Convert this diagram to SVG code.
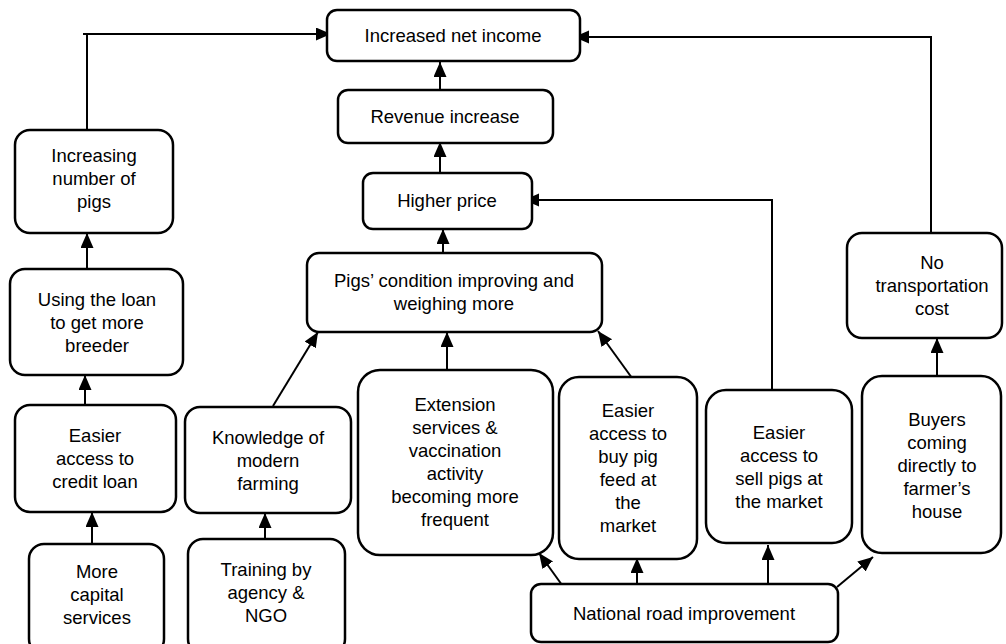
<svg xmlns="http://www.w3.org/2000/svg" width="1006" height="644" viewBox="0 0 1006 644">
  <style>
    .box { fill: #ffffff; stroke: #000000; stroke-width: 2.5; }
    .lbl { font-family: "Liberation Sans", Arial, sans-serif; font-size: 18.5px; fill: #000000; text-anchor: middle; }
    .con { fill: none; stroke: #000000; stroke-width: 2; }
    .arr { marker-end: url(#head); }
  </style>
  <defs>
    <marker id="head" markerUnits="userSpaceOnUse" markerWidth="16" markerHeight="14" refX="15" refY="6.5" orient="auto">
      <path d="M0,0 L15,6.5 L0,13 Z" fill="#000000"/>
    </marker>
  </defs>

  <rect width="1006" height="644" fill="#ffffff"/>

  <!-- connectors -->
  <g id="connectors">
    <polyline class="con arr" points="87,130 87,34 83,34 87,34 331,34"/>
    <line class="con arr" x1="440" y1="90" x2="440" y2="62"/>
    <polyline class="con arr" points="931,233 931,37 574,37"/>
    <line class="con arr" x1="440" y1="173" x2="440" y2="142"/>
    <polyline class="con arr" points="772,390 772,200 524,200"/>
    <line class="con arr" x1="443" y1="253" x2="443" y2="229"/>
    <line class="con arr" x1="447" y1="370" x2="447" y2="332"/>
    <line class="con arr" x1="273" y1="406" x2="318" y2="332"/>
    <line class="con arr" x1="632" y1="378" x2="598" y2="331"/>
    <line class="con arr" x1="87" y1="269" x2="87" y2="233"/>
    <line class="con arr" x1="85" y1="405" x2="85" y2="375"/>
    <line class="con arr" x1="92" y1="544" x2="92" y2="512"/>
    <line class="con arr" x1="265" y1="539" x2="265" y2="513"/>
    <line class="con arr" x1="937" y1="376" x2="937" y2="338"/>
    <line class="con arr" x1="562" y1="585" x2="539" y2="553"/>
    <line class="con arr" x1="637" y1="585" x2="637" y2="558"/>
    <line class="con arr" x1="768" y1="585" x2="768" y2="545"/>
    <line class="con arr" x1="837" y1="587" x2="873" y2="557"/>
  </g>

  <g id="increased-net-income">
    <rect class="box" x="327" y="10" width="253" height="51" rx="10"/>
    <text class="lbl" x="453" y="42">Increased net income</text>
  </g>

  <g id="revenue-increase">
    <rect class="box" x="338" y="90" width="215" height="53" rx="10"/>
    <text class="lbl" x="445" y="123">Revenue increase</text>
  </g>

  <g id="higher-price">
    <rect class="box" x="363" y="173" width="169" height="56" rx="10"/>
    <text class="lbl" x="447" y="207">Higher price</text>
  </g>

  <g id="pigs-condition">
    <rect class="box" x="307" y="253" width="295" height="79" rx="12"/>
    <text class="lbl" x="454" y="287">Pigs’ condition improving and</text>
    <text class="lbl" x="454" y="310">weighing more</text>
  </g>

  <g id="increasing-pigs">
    <rect class="box" x="15" y="130" width="158" height="103" rx="15"/>
    <text class="lbl" x="94" y="162">Increasing</text>
    <text class="lbl" x="94" y="185">number of</text>
    <text class="lbl" x="94" y="208">pigs</text>
  </g>

  <g id="using-loan">
    <rect class="box" x="10" y="269" width="173" height="106" rx="15"/>
    <text class="lbl" x="97" y="306">Using the loan</text>
    <text class="lbl" x="97" y="329">to get more</text>
    <text class="lbl" x="97" y="352">breeder</text>
  </g>

  <g id="easier-credit">
    <rect class="box" x="15" y="405" width="161" height="107" rx="15"/>
    <text class="lbl" x="95" y="442">Easier</text>
    <text class="lbl" x="95" y="465">access to</text>
    <text class="lbl" x="95" y="488">credit loan</text>
  </g>

  <g id="more-capital">
    <rect class="box" x="29" y="544" width="135" height="110" rx="15"/>
    <text class="lbl" x="97" y="578">More</text>
    <text class="lbl" x="97" y="601">capital</text>
    <text class="lbl" x="97" y="624">services</text>
  </g>

  <g id="knowledge">
    <rect class="box" x="185" y="407" width="166" height="106" rx="15"/>
    <text class="lbl" x="268" y="444">Knowledge of</text>
    <text class="lbl" x="268" y="467">modern</text>
    <text class="lbl" x="268" y="490">farming</text>
  </g>

  <g id="training">
    <rect class="box" x="188" y="539" width="157" height="115" rx="15"/>
    <text class="lbl" x="266" y="576">Training by</text>
    <text class="lbl" x="266" y="599">agency &amp;</text>
    <text class="lbl" x="266" y="622">NGO</text>
  </g>

  <g id="extension-services">
    <rect class="box" x="358" y="370" width="195" height="185" rx="22"/>
    <text class="lbl" x="455" y="411">Extension</text>
    <text class="lbl" x="455" y="434">services &amp;</text>
    <text class="lbl" x="455" y="457">vaccination</text>
    <text class="lbl" x="455" y="480">activity</text>
    <text class="lbl" x="455" y="503">becoming more</text>
    <text class="lbl" x="455" y="526">frequent</text>
  </g>

  <g id="buy-feed">
    <rect class="box" x="559" y="377" width="138" height="182" rx="20"/>
    <text class="lbl" x="628" y="417">Easier</text>
    <text class="lbl" x="628" y="440">access to</text>
    <text class="lbl" x="628" y="463">buy pig</text>
    <text class="lbl" x="628" y="486">feed at</text>
    <text class="lbl" x="628" y="509">the</text>
    <text class="lbl" x="628" y="532">market</text>
  </g>

  <g id="sell-pigs">
    <rect class="box" x="706" y="390" width="146" height="153" rx="20"/>
    <text class="lbl" x="779" y="439">Easier</text>
    <text class="lbl" x="779" y="462">access to</text>
    <text class="lbl" x="779" y="485">sell pigs at</text>
    <text class="lbl" x="779" y="508">the market</text>
  </g>

  <g id="no-transport">
    <rect class="box" x="847" y="233" width="155" height="105" rx="15"/>
    <text class="lbl" x="932" y="269">No</text>
    <text class="lbl" x="932" y="292">transportation</text>
    <text class="lbl" x="932" y="315">cost</text>
  </g>

  <g id="buyers">
    <rect class="box" x="862" y="376" width="139" height="177" rx="20"/>
    <text class="lbl" x="937" y="426">Buyers</text>
    <text class="lbl" x="937" y="449">coming</text>
    <text class="lbl" x="937" y="472">directly to</text>
    <text class="lbl" x="937" y="495">farmer’s</text>
    <text class="lbl" x="937" y="518">house</text>
  </g>

  <g id="national-road">
    <rect class="box" x="531" y="584" width="307" height="58" rx="10"/>
    <text class="lbl" x="684" y="620">National road improvement</text>
  </g>
</svg>
